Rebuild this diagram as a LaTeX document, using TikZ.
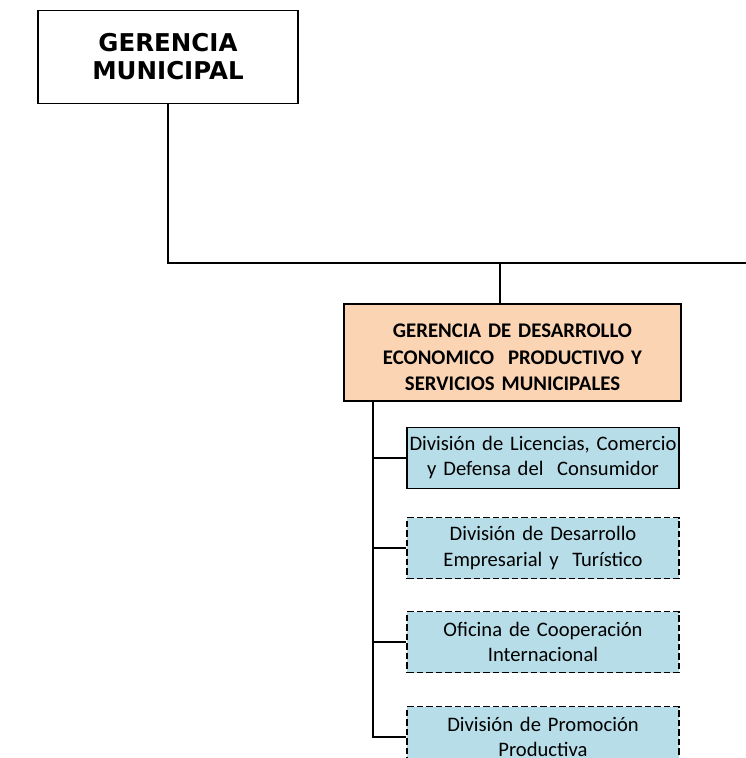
\documentclass[tikz,border=0pt]{standalone}
\usepackage{fontspec}
\setmainfont{Carlito}
\newfontfamily\verdana{DejaVu Sans}
\definecolor{durazno}{RGB}{251,212,180}
\definecolor{celeste}{RGB}{183,222,232}
\begin{document}
\begin{tikzpicture}[x=1pt,y=-1pt,
    con/.style={line width=1.6pt},
    gerbox/.style={draw,line width=1.2pt,fill=white,inner sep=0pt,align=center,text width=260pt,minimum height=93pt,font=\verdana\bfseries\fontsize{24.5}{28}\selectfont},
    subbox/.style={draw,line width=1.2pt,fill=durazno,inner sep=0pt,align=center,text width=337pt,minimum height=97pt,font=\bfseries\fontsize{20.8}{26.5}\selectfont},
    divbox/.style={draw,line width=1.2pt,fill=celeste,inner sep=0pt,align=center,text width=272pt,minimum height=61pt,font=\fontsize{20.6}{25}\selectfont},
    divdash/.style={divbox,dash pattern=on 6.5pt off 3pt}]
    \useasboundingbox (0,0) rectangle (746,758);
    \clip (0,0) rectangle (746,758);
    \node[gerbox] (gm) at (168,57) {GERENCIA\\MUNICIPAL\\[11pt]};
    \node[subbox] (gdep) at (512.5,352.5) {\\[-3pt]GERENCIA DE DESARROLLO\\ECONOMICO~ PRODUCTIVO Y\\SERVICIOS MUNICIPALES};
    \node[divbox] (lic) at (543,458) {División de Licencias, Comercio\\y Defensa del~ Consumidor};
    \node[divdash] (emp) at (543,548) {División de Desarrollo\\Empresarial y~ Turístico};
    \node[divdash] (coop) at (543,642) {Oficina de Cooperación\\Internacional};
    \node[divdash] (prom) at (543,737) {División de Promoción\\Productiva};
    \coordinate (fin) at (746,263);
    \coordinate (bus) at (500,263);
    \coordinate (tronco) at (373,401);
    \draw[con] (gm.south) -- (gm.south |- fin) -- (fin);
    \draw[con] (bus) -- (bus |- gdep.north);
    \draw[con] (tronco) |- (prom.west);
    \draw[con] (tronco |- lic.west) -- (lic.west);
    \draw[con] (tronco |- emp.west) -- (emp.west);
    \draw[con] (tronco |- coop.west) -- (coop.west);
\end{tikzpicture}
\end{document}
